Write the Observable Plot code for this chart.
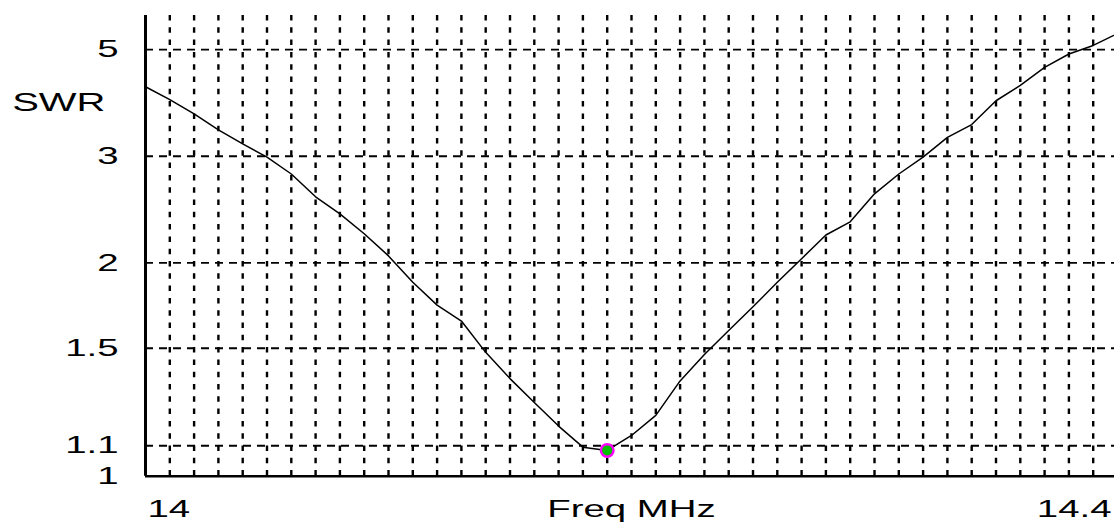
<!DOCTYPE html>
<html><head><meta charset="utf-8">
<script src="https://cdn.jsdelivr.net/npm/d3@7"></script>
<script src="https://cdn.jsdelivr.net/npm/@observablehq/plot@0.6"></script>
<style>html,body{margin:0;padding:0;background:#fff;overflow:hidden} svg{display:block}</style>
</head><body><div id="chart"></div>
<script>
// Frequency (MHz) samples and SWR readings
const freqs = [14.00,14.01,14.02,14.03,14.04,14.05,14.06,14.07,14.08,14.09,14.10,14.11,14.12,14.13,14.14,14.15,14.16,14.17,14.18,14.19,14.20,14.21,14.22,14.23,14.24,14.25,14.26,14.27,14.28,14.29,14.30,14.31,14.32,14.33,14.34,14.35,14.36,14.37,14.38,14.39,14.40];
const swr = [4.11,3.86,3.61,3.36,3.16,2.99,2.79,2.55,2.39,2.22,2.05,1.87,1.73,1.64,1.48,1.36,1.26,1.17,1.095,1.084,1.136,1.21,1.35,1.47,1.59,1.72,1.87,2.03,2.21,2.32,2.58,2.79,2.99,3.25,3.44,3.84,4.14,4.54,4.88,5.12,5.49];
// Axis ticks and labels
const swrTicks = [5, 3, 2, 1.5, 1.1, 1];
const swrTickLabels = ["5", "3", "2", "1.5", "1.1", "1"];
const swrGrid = [5, 3, 2, 1.5, 1.1];
const freqTicksStart = [14.0];
const freqTicksEnd = [14.4];
const freqLabelStart = ["14"];
const freqLabelEnd = ["14.4"];
const xTitle = "Freq MHz";
const xTitleAt = [14.2];
const yTitle = "SWR";
const freqGrid = d3.range(1, 40).map(i => +(14 + i / 100).toFixed(2));

// SWR plotted on a reflection-coefficient scale
const rho = s => (s - 1) / (s + 1);
const data = freqs.map((f, i) => ({f, s: swr[i]}));
const minPt = [data[d3.minIndex(swr)]];

const font = "'Liberation Sans', Arial, sans-serif";
const plot = Plot.plot({
  width: 1114,
  height: 522,
  marginLeft: 145,
  marginRight: 0,
  marginTop: 15,
  marginBottom: 46.3,
  x: {domain: [14, 14.4], range: [145, 1117], axis: null},
  y: {domain: [0, 0.72], range: [475.7, 15], axis: null},
  style: {fontFamily: font, fontSize: "24px", color: "#000", background: "#fff"},
  marks: [
    Plot.ruleX(freqGrid, {x: d => d, y1: 0.72, y2: 0, stroke: "#000", strokeWidth: 2.4, strokeDasharray: "5.5,6.8"}),
    Plot.ruleY(swrGrid, {y: rho, x1: 14, x2: 14.4, stroke: "#000", strokeWidth: 1.8, strokeDasharray: "8,6"}),
    Plot.ruleX([14], {y1: 0.72, y2: 0, stroke: "#000", strokeWidth: 3}),
    Plot.ruleY([0], {x1: 14, x2: 14.4, stroke: "#000", strokeWidth: 2.5}),
    Plot.line(data, {x: "f", y: d => rho(d.s), stroke: "#000", strokeWidth: 1.5}),
    Plot.dot(minPt, {x: "f", y: d => rho(d.s), r: 7.5, fill: "#ff00ff"}),
    Plot.dot(minPt, {x: "f", y: d => rho(d.s), r: 5, fill: "#00c000"}),
    Plot.text(swrTicks, {x: 14, y: rho, text: (d, i) => swrTickLabels[i], textAnchor: "end", dx: -27, fill: "#000"}),
    Plot.text([yTitle], {frameAnchor: "top-left", text: d => d, textAnchor: "end", dx: -40, dy: 78, fontSize: 25, fill: "#000"}),
    Plot.text(freqTicksStart, {x: d => d, frameAnchor: "bottom", text: (d, i) => freqLabelStart[i], textAnchor: "start", dx: 2, dy: 41, fill: "#000"}),
    Plot.text(freqTicksEnd, {x: d => d, frameAnchor: "bottom", text: (d, i) => freqLabelEnd[i], textAnchor: "end", dx: -6, dy: 41, fill: "#000"}),
    Plot.text(xTitleAt, {x: d => d, frameAnchor: "bottom", text: () => xTitle, textAnchor: "middle", dy: 41, fill: "#000"})
  ]
});

// Horizontally stretched lettering (and marker), as in the reference
plot.querySelectorAll("text").forEach(t => {
  const tr = t.getAttribute("transform");
  if (tr) t.setAttribute("transform", tr + " scale(1.6,1)");
  else {
    const x = +t.getAttribute("x") || 0, y = +t.getAttribute("y") || 0;
    t.removeAttribute("x"); t.removeAttribute("y");
    t.setAttribute("transform", `translate(${x},${y}) scale(1.6,1)`);
  }
});
document.getElementById("chart").append(plot);
</script>
</body></html>
